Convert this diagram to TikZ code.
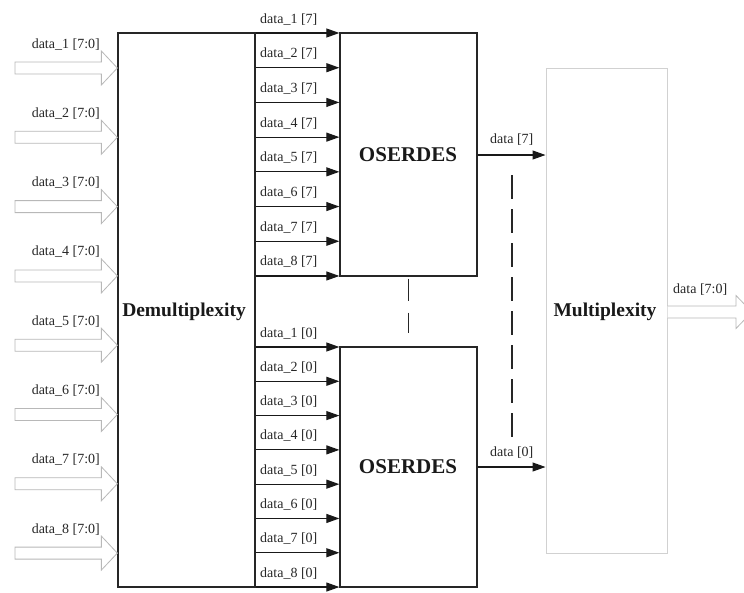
\documentclass[tikz,border=0pt]{standalone}
\usepackage{fontspec}
\setmainfont{Liberation Serif}
\usetikzlibrary{arrows.meta}
\begin{document}
\begin{tikzpicture}[x=1pt,y=-1pt,
  blk/.style={draw=black!85, line width=1.3pt, inner sep=0pt},
  lbl/.style={font=\fontsize{14}{15}\selectfont, text=black!85, inner sep=0pt},
  ttl/.style={font=\bfseries\fontsize{19.5}{20}\selectfont, text=black!90},
  sig/.style={draw=black!90, line width=1.1pt, -{Triangle[length=13pt,width=9pt]}},
  bus/.style={draw=black!28, line width=0.8pt, fill=white, line join=miter},
  dashline/.style={draw=black!85, line width=1.7pt, dash pattern=on 24pt off 10pt}]
\useasboundingbox (0,0) rectangle (744,592);

% main blocks
\node[blk, minimum width=137pt, minimum height=554pt] (demux) at (186.5,310) {};
\node[ttl] (demuxt) at (184,312) {Demultiplexity};
\node[blk, minimum width=137pt, minimum height=243pt] (ostop) at (408.5,154.5) {};
\node[ttl, font=\bfseries\fontsize{21}{22}\selectfont] (ostopt) at (408,155) {OSERDES};
\node[blk, minimum width=137pt, minimum height=240pt] (osbot) at (408.5,467) {};
\node[ttl, font=\bfseries\fontsize{21}{22}\selectfont] (osbott) at (408,467) {OSERDES};
\node[draw=black!18, line width=1pt, minimum width=121pt, minimum height=485pt] (mux) at (606.5,310.5) {};
\node[ttl] (muxt) at (605,312) {Multiplexity};

% 8-bit input buses into the demultiplexer
\foreach \i in {1,...,8}{
  \pgfmathsetmacro{\yy}{68+(\i-1)*69.3}
  \coordinate (in\i) at (15,\yy);
  \coordinate (tip\i) at (demux.west |- in\i);
  \draw[bus] ([yshift=6pt]in\i) -- ([xshift=-16pt,yshift=6pt]tip\i) -- ([xshift=-16pt,yshift=17pt]tip\i)
     -- (tip\i) -- ([xshift=-16pt,yshift=-17pt]tip\i) -- ([xshift=-16pt,yshift=-6pt]tip\i)
     -- ([yshift=-6pt]in\i) -- cycle;
  \node[lbl, anchor=base east] (inl\i) at (100,\yy-20) {data\_\i\ [7:0]};
}

% bit 7 lanes into the upper serializer
\foreach \i in {1,...,8}{
  \pgfmathsetmacro{\yy}{33+(\i-1)*34.71}
  \coordinate (a\i) at (demux.east |- 0,\yy);
  \draw[sig] (a\i) -- (ostop.west |- a\i);
  \node[lbl, anchor=base west] (ua\i) at (260,\yy-10) {data\_\i\ [7]};
}

% bit 0 lanes into the lower serializer
\foreach \i in {1,...,8}{
  \pgfmathsetmacro{\yy}{347+(\i-1)*34.29}
  \coordinate (b\i) at (demux.east |- 0,\yy);
  \draw[sig] (b\i) -- (osbot.west |- b\i);
  \node[lbl, anchor=base west] (lb\i) at (260,\yy-10) {data\_\i\ [0]};
}

% serial outputs into the multiplexer
\draw[sig] (ostop.east |- 0,155) -- (mux.west |- 0,155);
\node[lbl, anchor=base west] (o7) at (490,143) {data [7]};
\draw[sig] (osbot.east) -- (mux.west |- osbot.east);
\node[lbl, anchor=base west] (o0) at (490,456) {data [0]};

% elided serializers and outputs
\draw[dashline, dash pattern=on 22pt off 12pt] ([yshift=-2pt]ostop.south) -- ([yshift=13pt]osbot.north);
\coordinate (d1) at (512,175);
\coordinate (d2) at (512,443);
\draw[dashline] (d1) -- (d2);

% 8-bit output bus
\coordinate (out0) at (mux.east |- 0,312);
\coordinate (outtip) at (752,312);
\draw[bus] ([yshift=-6pt]out0) -- ([xshift=-16pt,yshift=-6pt]outtip) -- ([xshift=-16pt,yshift=-16.5pt]outtip)
   -- (outtip) -- ([xshift=-16pt,yshift=16.5pt]outtip) -- ([xshift=-16pt,yshift=6pt]outtip)
   -- ([yshift=6pt]out0);
\node[lbl, anchor=base west] (outl) at (673,293) {data [7:0]};
\end{tikzpicture}
\end{document}
